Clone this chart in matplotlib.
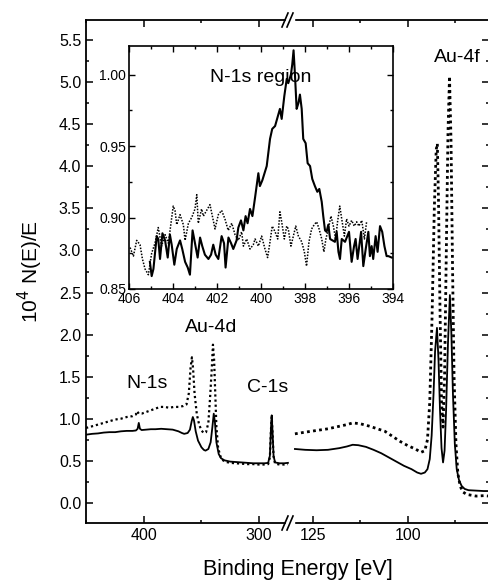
import numpy as np
import matplotlib
matplotlib.use("Agg")
import matplotlib.pyplot as plt
from matplotlib.ticker import MultipleLocator, FormatStrFormatter

plt.rcParams['font.family'] = ['Liberation Sans', 'DejaVu Sans']

# survey spectrum, high binding energy part (eV, 10^4 N(E)/E)
left_e_solid = [450.4, 445, 440, 435, 430, 425, 420, 415, 410, 407, 405.5, 404.5, 403.5, 402, 398, 394,
                390, 385, 380, 375, 370, 367, 365, 362, 360, 358.5, 357.5, 356.5, 355, 353, 350, 348,
                346.5, 344, 342, 340.5, 339.3, 338.3, 337, 335, 333, 330, 325, 320, 315, 310, 305,
                300, 295, 292, 290.5, 289.5, 288.9, 288.2, 287.3, 286, 282, 278, 274.8]
left_v_solid = [0.81, 0.82, 0.825, 0.835, 0.84, 0.84, 0.85, 0.855, 0.855, 0.86, 0.88, 0.95, 0.88, 0.865, 0.87, 0.875,
                0.875, 0.88, 0.875, 0.87, 0.85, 0.83, 0.82, 0.83, 0.87, 0.97, 1.02, 0.98, 0.85, 0.74, 0.66, 0.63,
                0.62, 0.64, 0.72, 0.9, 1.06, 0.96, 0.72, 0.58, 0.53, 0.505, 0.49, 0.485, 0.48, 0.475, 0.47,
                0.47, 0.47, 0.475, 0.56, 0.9, 1.04, 0.85, 0.56, 0.48, 0.47, 0.47, 0.475]
left_e_dot = [450.4, 445, 440, 435, 430, 425, 420, 415, 410, 407, 406, 404.5, 402, 398, 394, 390, 386,
              382, 378, 374, 370, 366, 363, 361, 359.5, 358.3, 357.3, 356, 354, 352, 350, 348, 346,
              344, 342.5, 341, 340, 339, 338, 337, 335.5, 333, 330, 325, 320, 315, 310, 305, 300,
              295, 292, 290.5, 289.5, 288.9, 288.2, 287.3, 286, 282, 278, 274.8]
left_v_dot = [0.89, 0.91, 0.93, 0.95, 0.97, 0.99, 1.0, 1.02, 1.03, 1.05, 1.09, 1.06, 1.06, 1.08, 1.1, 1.12, 1.14,
              1.14, 1.13, 1.14, 1.14, 1.15, 1.17, 1.3, 1.6, 1.73, 1.6, 1.3, 1.05, 0.93, 0.86, 0.83, 0.84,
              0.95, 1.25, 1.6, 1.88, 1.7, 1.3, 0.9, 0.65, 0.53, 0.49, 0.475, 0.47, 0.465, 0.46, 0.46, 0.455,
              0.455, 0.46, 0.54, 0.88, 1.02, 0.83, 0.55, 0.465, 0.455, 0.455, 0.46]

# survey spectrum, low binding energy part
right_e_solid = [129.7, 127, 124, 121, 118, 116, 114.5, 113, 111, 109, 107, 105, 103, 101, 99, 97.5,
                 96.5, 95.5, 94.8, 94.2, 93.7, 93.2, 92.8, 92.3, 91.9, 91.5, 91.1, 90.7, 90.3, 89.9,
                 89.4, 88.9, 88.5, 88.1, 87.6, 87.1, 86.5, 85.8, 85, 84, 82, 80, 78.6]
right_v_solid = [0.64, 0.63, 0.625, 0.63, 0.65, 0.67, 0.69, 0.685, 0.665, 0.63, 0.59, 0.54, 0.49, 0.44, 0.40, 0.36,
                 0.345, 0.36, 0.40, 0.52, 0.8, 1.3, 1.8, 2.08, 1.7, 1.1, 0.65, 0.48, 0.62, 1.1,
                 1.9, 2.47, 2.0, 1.3, 0.7, 0.4, 0.27, 0.2, 0.165, 0.15, 0.145, 0.14, 0.14]
right_e_dot = [129.7, 127, 124, 121, 118, 116, 114.5, 112.5, 110, 108, 106, 104, 102, 100, 98, 96.5,
               95.5, 94.8, 94.2, 93.6, 93.0, 92.5, 92.2, 91.9, 91.5, 91.1, 90.7, 90.3, 89.9, 89.4,
               89.0, 88.6, 88.2, 87.8, 87.3, 86.8, 86.2, 85.5, 84.5, 82, 80, 78.6]
right_v_dot = [0.82, 0.84, 0.86, 0.88, 0.91, 0.93, 0.95, 0.94, 0.91, 0.88, 0.85, 0.79, 0.73, 0.68, 0.64, 0.60,
               0.62, 0.75, 1.2, 2.2, 3.5, 4.2, 4.27, 3.6, 2.3, 1.2, 0.9, 1.5, 2.8, 4.4,
               5.07, 4.3, 2.8, 1.5, 0.7, 0.35, 0.2, 0.13, 0.1, 0.08, 0.085, 0.08]

# inset: N-1s region
n1s_e_solid = [405.05, 404.97, 404.89, 404.74, 404.67, 404.59, 404.48, 404.36, 404.24, 404.14, 404.06,
               403.94, 403.83, 403.68, 403.58, 403.45, 403.33, 403.23, 403.11, 403.00, 402.88, 402.77,
               402.67, 402.55, 402.39, 402.27, 402.17, 402.06, 401.94, 401.79, 401.68, 401.61, 401.48,
               401.36, 401.26, 401.11, 401.03, 400.91, 400.80, 400.70, 400.61, 400.50, 400.39, 400.27,
               400.12, 400.05, 399.94, 399.74, 399.59, 399.49, 399.36, 399.14, 399.06, 398.94, 398.83,
               398.76, 398.64, 398.58, 398.52, 398.46, 398.38, 398.30, 398.23, 398.15, 398.08, 397.97,
               397.88, 397.77, 397.67, 397.55, 397.44, 397.35, 397.24, 397.17, 397.09, 397.02, 396.94,
               396.86, 396.64, 396.56, 396.48, 396.41, 396.33, 396.18, 396.00, 395.88, 395.77, 395.70,
               395.61, 395.45, 395.35, 395.24, 395.12, 395.05, 394.97, 394.90, 394.79, 394.70, 394.59,
               394.49, 394.39, 394.29, 394.21, 394.06]
n1s_v_solid = [0.869, 0.859, 0.864, 0.887, 0.885, 0.871, 0.889, 0.884, 0.872, 0.888, 0.881,
               0.867, 0.878, 0.884, 0.878, 0.869, 0.865, 0.860, 0.891, 0.882, 0.872, 0.886,
               0.880, 0.874, 0.871, 0.874, 0.881, 0.874, 0.871, 0.887, 0.882, 0.865, 0.886,
               0.882, 0.878, 0.884, 0.893, 0.898, 0.891, 0.901, 0.896, 0.906, 0.901, 0.914,
               0.931, 0.922, 0.926, 0.936, 0.955, 0.962, 0.964, 0.976, 0.969, 0.985, 0.997,
               0.994, 1.000, 1.007, 1.017, 1.001, 0.976, 0.980, 0.986, 0.976, 0.955, 0.952,
               0.938, 0.936, 0.927, 0.922, 0.918, 0.920, 0.911, 0.901, 0.891, 0.890, 0.895,
               0.885, 0.883, 0.890, 0.876, 0.871, 0.885, 0.883, 0.890, 0.869, 0.880, 0.885,
               0.871, 0.890, 0.866, 0.878, 0.890, 0.873, 0.880, 0.871, 0.887, 0.876, 0.894,
               0.890, 0.880, 0.873, 0.873, 0.872]
n1s_e_dot = [405.95, 405.80, 405.65, 405.50, 405.39, 405.27, 405.12, 404.97, 404.82, 404.67, 404.52,
             404.36, 404.21, 403.99, 403.91, 403.83, 403.68, 403.53, 403.45, 403.30, 403.15, 403.00,
             402.92, 402.85, 402.70, 402.62, 402.47, 402.32, 402.21, 402.09, 401.94, 401.79, 401.64,
             401.49, 401.33, 401.18, 401.03, 400.88, 400.80, 400.65, 400.50, 400.35, 400.27, 400.12,
             399.97, 399.82, 399.70, 399.59, 399.49, 399.36, 399.24, 399.14, 399.06, 398.94, 398.83,
             398.76, 398.64, 398.53, 398.42, 398.30, 398.15, 398.03, 397.93, 397.82, 397.70, 397.58,
             397.47, 397.36, 397.24, 397.14, 397.05, 396.94, 396.82, 396.71, 396.61, 396.52, 396.42,
             396.33, 396.21, 396.11, 396.00, 395.88, 395.76, 395.65, 395.55, 395.42, 395.30, 395.20]
n1s_v_dot = [0.879, 0.873, 0.884, 0.881, 0.871, 0.864, 0.860, 0.875, 0.882, 0.893, 0.880,
             0.888, 0.882, 0.908, 0.905, 0.895, 0.902, 0.895, 0.884, 0.896, 0.900, 0.906,
             0.916, 0.896, 0.906, 0.901, 0.905, 0.909, 0.901, 0.892, 0.902, 0.905, 0.899,
             0.891, 0.896, 0.888, 0.884, 0.890, 0.880, 0.885, 0.878, 0.881, 0.885, 0.880,
             0.887, 0.878, 0.872, 0.883, 0.894, 0.890, 0.885, 0.904, 0.897, 0.885, 0.894,
             0.892, 0.880, 0.887, 0.894, 0.887, 0.883, 0.876, 0.866, 0.883, 0.892, 0.895,
             0.897, 0.892, 0.885, 0.876, 0.885, 0.892, 0.901, 0.894, 0.885, 0.897, 0.908,
             0.899, 0.887, 0.899, 0.894, 0.898, 0.894, 0.897, 0.894, 0.898, 0.885, 0.897]

W, H = 489, 580
fig = plt.figure(figsize=(W / 100, H / 100), dpi=100)

def box(x0, y0, x1, y1):  # pixel box -> figure fraction rect
    return [x0 / W, 1 - y1 / H, (x1 - x0) / W, (y1 - y0) / H]

axL = fig.add_axes(box(86, 20, 290, 523))
axR = fig.add_axes(box(290, 20, 489, 523))
ins = fig.add_axes(box(129, 46, 393, 289))

lw_s = 1.3
axL.plot(left_e_solid, left_v_solid, color='k', lw=lw_s)
axL.plot(left_e_dot, left_v_dot, color='k', lw=1.6, ls=(0, (1, 1.3)))
axR.plot(right_e_solid, right_v_solid, color='k', lw=lw_s)
axR.plot(right_e_dot, right_v_dot, color='k', lw=2.0, ls=(0, (1, 1.2)))

ylim = (-0.24, 5.74)
axL.set_xlim(450.4, 273.0)
axR.set_xlim(131.0, 78.6)
for a in (axL, axR):
    a.set_ylim(*ylim)
    a.tick_params(which='both', direction='in', top=True, labelsize=11.5, width=1.1)
    a.tick_params(which='major', length=5)
    a.tick_params(which='minor', length=2.5)
    a.yaxis.set_major_locator(MultipleLocator(0.5))
    a.yaxis.set_minor_locator(MultipleLocator(0.25))
    for s in a.spines.values():
        s.set_linewidth(1.3)

axL.xaxis.set_major_locator(MultipleLocator(100))
axL.xaxis.set_minor_locator(MultipleLocator(50))
axL.yaxis.set_major_formatter(FormatStrFormatter('%.1f'))
axL.spines['right'].set_visible(False)
axL.tick_params(which='both', right=False)

axR.xaxis.set_major_locator(MultipleLocator(25))
axR.xaxis.set_minor_locator(MultipleLocator(12.5))
axR.spines['left'].set_visible(False)
axR.tick_params(which='both', left=False, labelleft=False, right=True)

# break marks
for yp in (20, 523):
    yf = 1 - yp / H
    fig.patches.append(plt.Rectangle((286 / W, yf - 3 / H), 8 / W, 6 / H,
                                     transform=fig.transFigure, color='white', zorder=5))
    for dx in (-3, 2):
        fig.lines.append(plt.Line2D([(288 + dx - 3) / W, (288 + dx + 3) / W], [yf - 7 / H, yf + 7 / H],
                                    transform=fig.transFigure, color='k', lw=1.2, zorder=6))

# inset
ins.plot(n1s_e_dot, n1s_v_dot, color='k', lw=1.1, ls=(0, (1, 1)))
ins.plot(n1s_e_solid, n1s_v_solid, color='k', lw=1.5)
ins.set_xlim(406, 394)
ins.set_ylim(0.85, 1.02)
ins.xaxis.set_major_locator(MultipleLocator(2))
ins.xaxis.set_minor_locator(MultipleLocator(1))
ins.yaxis.set_major_locator(MultipleLocator(0.05))
ins.yaxis.set_minor_locator(MultipleLocator(0.025))
ins.yaxis.set_major_formatter(FormatStrFormatter('%.2f'))
ins.tick_params(which='both', direction='in', top=True, right=True, labelsize=10, width=1, pad=2)
ins.tick_params(which='major', length=4)
ins.tick_params(which='minor', length=2)
for s in ins.spines.values():
    s.set_linewidth(1.2)
ins.text(0.5, 0.87, 'N-1s region', transform=ins.transAxes, ha='center', va='center', fontsize=14)

def ftext(x, y, s, **kw):
    fig.text(x / W, 1 - y / H, s, ha='center', va='center', **kw)

ftext(147, 384, 'N-1s', fontsize=14)
ftext(211, 327, 'Au-4d', fontsize=14)
ftext(268, 387, 'C-1s', fontsize=14)
ftext(457, 57, 'Au-4f', fontsize=14)
ftext(298, 569, 'Binding Energy [eV]', fontsize=15.5)
ftext(30, 272, r'10$^4$ N(E)/E', fontsize=15, rotation=90)

fig.savefig('out.png', dpi=100)
